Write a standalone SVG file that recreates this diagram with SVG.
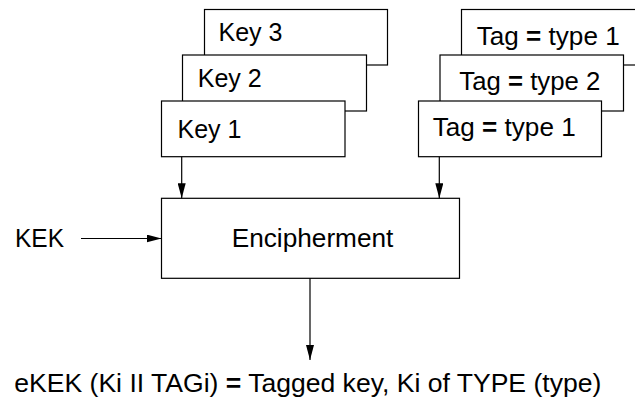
<svg xmlns="http://www.w3.org/2000/svg" width="635" height="401" viewBox="0 0 635 401">
<defs>
<style>
.box{fill:#fff;stroke:#000;stroke-width:1.2}
.t{font-family:"Liberation Sans",Arial,sans-serif;font-size:26px;fill:#000}
.ln{stroke:#000;stroke-width:1.2;fill:none}
</style>
<marker id="ah" markerWidth="15" markerHeight="8" refX="15" refY="4" orient="auto" markerUnits="userSpaceOnUse">
<path d="M0,0 L15,4 L0,8 Z" fill="#000"/>
</marker>
</defs>
<rect width="635" height="401" fill="#fff"/>
<g id="key3"><rect class="box" x="204.5" y="9.5" width="183" height="55.5"/><text class="t" x="218.5" y="41.2" textLength="64" lengthAdjust="spacingAndGlyphs">Key 3</text></g>
<g id="key2"><rect class="box" x="182.5" y="55" width="184" height="56"/><text class="t" x="197.7" y="87" textLength="64" lengthAdjust="spacingAndGlyphs">Key 2</text></g>
<g id="key1"><rect class="box" x="161.5" y="101" width="183.5" height="55.7"/><text class="t" x="177.5" y="138.3" textLength="64" lengthAdjust="spacingAndGlyphs">Key 1</text></g>
<g id="tag3"><rect class="box" x="461.5" y="9.5" width="190" height="55.5"/><text class="t" x="476.7" y="44.8" textLength="143" lengthAdjust="spacingAndGlyphs">Tag <tspan font-weight="bold">=</tspan> type 1</text></g>
<g id="tag2"><rect class="box" x="440" y="55" width="183.5" height="56"/><text class="t" x="459.3" y="89.8" textLength="141" lengthAdjust="spacingAndGlyphs">Tag <tspan font-weight="bold">=</tspan> type 2</text></g>
<g id="tag1"><rect class="box" x="418.5" y="101" width="183" height="55.7"/><text class="t" x="432.7" y="135.5" textLength="143" lengthAdjust="spacingAndGlyphs">Tag <tspan font-weight="bold">=</tspan> type 1</text></g>
<g id="enc"><rect class="box" x="161.5" y="198.3" width="298" height="80"/><text class="t" x="231.7" y="247" textLength="161.7" lengthAdjust="spacingAndGlyphs">Encipherment</text></g>
<g id="kek"><text class="t" x="15" y="247.3" textLength="49" lengthAdjust="spacingAndGlyphs">KEK</text></g>
<g id="result"><text class="t" x="14.3" y="391.8" textLength="587" lengthAdjust="spacingAndGlyphs">eKEK (Ki II TAGi) <tspan font-weight="bold">=</tspan> Tagged key, Ki of TYPE (type)</text></g>
<g id="connectors">
<line class="ln" x1="181.7" y1="156.7" x2="181.7" y2="198.3" marker-end="url(#ah)"/>
<line class="ln" x1="439.3" y1="156.7" x2="439.3" y2="198.3" marker-end="url(#ah)"/>
<line class="ln" x1="81" y1="238.5" x2="161.5" y2="238.5" marker-end="url(#ah)"/>
<line class="ln" x1="310" y1="278.3" x2="310" y2="360" marker-end="url(#ah)"/>
</g>
</svg>
